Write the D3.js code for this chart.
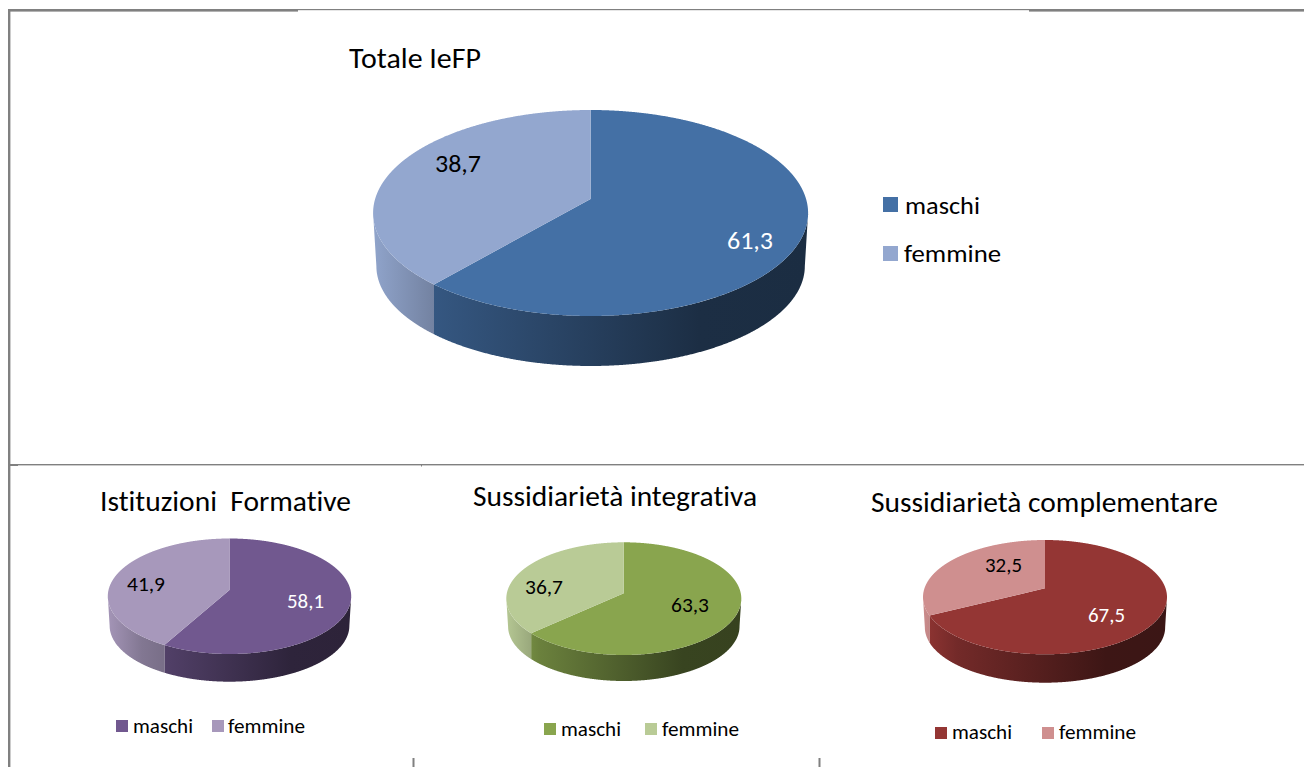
<!DOCTYPE html>
<html><head><meta charset="utf-8">
<script src="https://cdn.jsdelivr.net/npm/d3@7"></script>
<style>html,body{margin:0;padding:0;background:#fff;overflow:hidden}svg{display:block}text{font-family:Carlito,Lato,sans-serif;fill:#000;white-space:pre;font-variant-ligatures:none}</style>
</head><body><svg id="c" width="1304" height="767"></svg>
<script>
// ---- data ----
const titles = ["Totale IeFP", "Istituzioni  Formative", "Sussidiarietà integrativa", "Sussidiarietà complementare"];
const seriesNames = ["maschi", "femmine"];
const maschi = [61.3, 58.1, 63.3, 67.5];
const femmine = [38.7, 41.9, 36.7, 32.5];
const maschiColors = ["#4470A5", "#71588F", "#89A54E", "#943634"];
const femmineColors = ["#93A7CF", "#A798BB", "#B9CB96", "#CF8F8F"];
const maschiLabelFill = ["#fff", "#fff", "#000", "#fff"];

// ---- layout ----
const panels = [
  {cx:590.6, rx:217.5, top:110, apex:199, bot:316, wall:366,
   title:{x:349,w:132,y:68,size:29.5}, labels:[{x:727,w:46,y:248.5,size:24.5},{x:435,w:46,y:172,size:24.5}],
   legend:{size:15, rows:[{sx:883,sy:197,tx:905,tw:75,y:213.5},{sx:883,sy:246,tx:904,tw:97,y:261.5}], font:25.5}},
  {cx:229.5, rx:121.7, top:538.5, apex:590, bot:654, wall:681.7,
   title:{x:100,w:251,y:510.5,size:29}, labels:[{x:287,w:37,y:608,size:20},{x:127,w:38,y:591,size:20}],
   legend:{size:12, rows:[{sx:116,sy:720,tx:133,tw:60,y:733},{sx:212,sy:720,tx:228,tw:77,y:733}], font:20.5}},
  {cx:623.8, rx:117.5, top:542.3, apex:593.3, bot:655, wall:681,
   title:{x:473,w:284,y:505.5,size:29}, labels:[{x:671,w:38,y:611.5,size:20},{x:525,w:38,y:594,size:20}],
   legend:{size:12, rows:[{sx:544,sy:723,tx:561,tw:60,y:735.5},{sx:645,sy:723,tx:662,tw:77,y:735.5}], font:20.5}},
  {cx:1045, rx:122, top:540, apex:588.3, bot:654.3, wall:682.7,
   title:{x:871,w:347,y:512,size:29}, labels:[{x:1088,w:37,y:621.5,size:20},{x:985,w:37,y:572,size:20}],
   legend:{size:12, rows:[{sx:935,sy:727,tx:952,tw:60,y:738.5},{sx:1042,sy:727,tx:1059,tw:77,y:738.5}], font:20.5}}
];
const frameRects = [
  [8,9,290,2.6],[298,9,731,1.2],[1029,9,275,2.6],
  [8,9,2.4,758],[8,464,1296,1.4],[10,464,8,2],
  [421,465,1,1.5],[412.5,758,2,9],[818.5,758,2,9]
];
const wallStops = [[0,0.98],[0.14,0.78],[0.75,0.41],[1,0.40]];

const svg = d3.select("#c");
const defs = svg.append("defs");
svg.append("g").selectAll("rect").data(frameRects).join("rect")
  .attr("x",d=>d[0]).attr("y",d=>d[1]).attr("width",d=>d[2]).attr("height",d=>d[3]).attr("fill","#808080");

const pieGen = d3.pie().sort(null).value(d=>d);
const lineGen = d3.line().x(d=>d[0]).y(d=>d[1]);

function shade(col,f){const c=d3.rgb(col);return d3.rgb(c.r*f,c.g*f,c.b*f).formatHex();}
function steps(a0,a1){const n=Math.max(2,Math.ceil((a1-a0)/0.004));return d3.range(n+1).map(i=>a0+(a1-a0)*i/n);}

panels.forEach((p,i)=>{
  const g = svg.append("g");
  // projective image of a circle: the apex is the true centre, seen in perspective
  const c = (2*p.apex-p.bot-p.top)/(p.bot-p.top);
  const b = p.bot*(1+c)-p.apex;
  const k = p.rx*Math.sqrt(1-c*c);
  const topPt = a=>{const v=-Math.cos(a),den=1+c*v;return [p.cx+k*Math.sin(a)/den,(p.apex+b*v)/den];};
  // lower rim: a slightly narrower ellipse, the wall edges drop straight down onto it
  const rxb = p.rx*0.985, ryb = (p.bot-p.top)/2*0.97, ycb = p.wall-ryb;
  const botPt = a=>{
    const dx=Math.max(-rxb,Math.min(rxb,topPt(a)[0]-p.cx));
    return [p.cx+dx, ycb+ryb*Math.sqrt(1-(dx/rxb)*(dx/rxb))];
  };
  const vis0 = Math.acos(c), vis1 = 2*Math.PI-vis0;
  const arcs = pieGen([maschi[i],femmine[i]]);
  const cols = [maschiColors[i],femmineColors[i]];
  arcs.forEach((a,j)=>{
    const id=`w${i}${j}`;
    const gr=defs.append("linearGradient").attr("id",id).attr("gradientUnits","userSpaceOnUse")
      .attr("x1",p.cx-p.rx).attr("x2",p.cx+p.rx).attr("y1",0).attr("y2",0);
    wallStops.forEach(s=>gr.append("stop").attr("offset",s[0]).attr("stop-color",shade(cols[j],s[1])));
    const a0=Math.max(a.startAngle,vis0),a1=Math.min(a.endAngle,vis1);
    if(a1<=a0) return;
    const st=steps(a0,a1);
    g.append("path").attr("fill",`url(#${id})`)
      .attr("d",lineGen(st.map(topPt).concat(st.slice().reverse().map(botPt)))+"Z");
  });
  arcs.forEach((a,j)=>{
    g.append("path").attr("fill",cols[j])
      .attr("d",lineGen([[p.cx,p.apex]].concat(steps(a.startAngle,a.endAngle).map(topPt)))+"Z");
  });
  const fit=(t,o)=>t.attr("x",o.x).attr("y",o.y).attr("font-size",o.size).attr("textLength",o.w).attr("lengthAdjust","spacingAndGlyphs");
  fit(g.append("text").text(titles[i]),p.title);
  const vals=[maschi[i],femmine[i]], fills=[maschiLabelFill[i],"#000"];
  p.labels.forEach((o,j)=>{
    fit(g.append("text").text(d3.format(".1f")(vals[j]).replace(".",",")),o).style("fill",fills[j]);
  });
  p.legend.rows.forEach((r,j)=>{
    g.append("rect").attr("x",r.sx).attr("y",r.sy).attr("width",p.legend.size).attr("height",p.legend.size).attr("fill",cols[j]);
    fit(g.append("text").text(seriesNames[j]),{x:r.tx,y:r.y,w:r.tw,size:p.legend.font});
  });
});
</script></body></html>
